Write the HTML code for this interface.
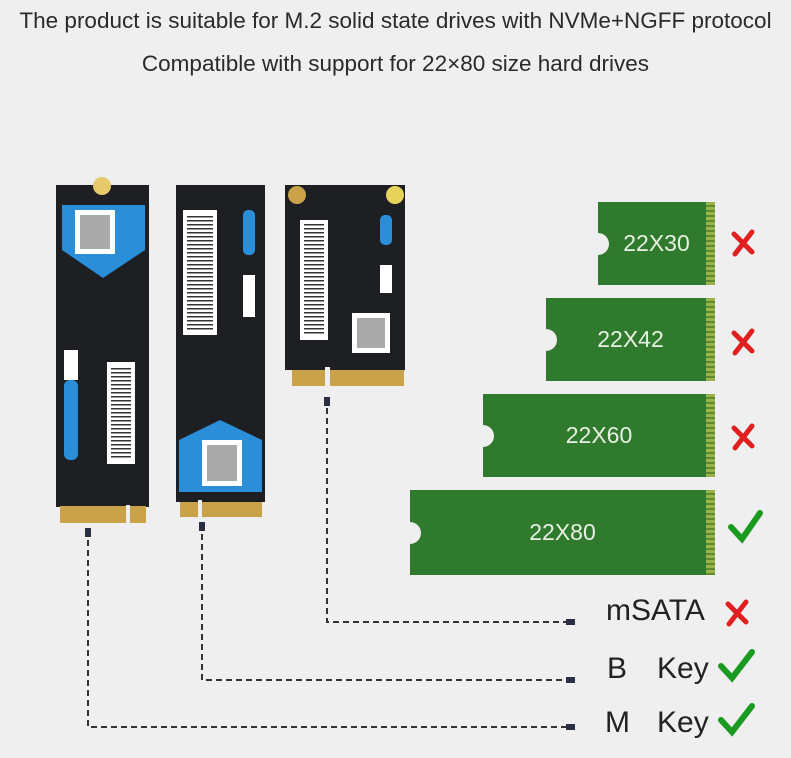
<!DOCTYPE html>
<html><head><style>
body{margin:0;width:791px;height:758px;background:#efefef;position:relative;overflow:hidden;font-family:"Liberation Sans",sans-serif;}
.t{position:absolute;left:0;width:791px;text-align:center;color:#2a2a2a;font-size:22.5px;}
.a{position:absolute;}
.g{position:absolute;background:#2f7a2c;color:#e8f0e4;font-size:23px;text-align:center;}
.g::after{content:"";position:absolute;right:0;top:0;width:9px;height:100%;background:repeating-linear-gradient(#9ab24a 0 3px,#5f8a30 3px 5px);}
.g .n{position:absolute;left:-11px;top:50%;margin-top:-11px;width:22px;height:22px;border-radius:50%;background:#efefef;}
.lbl{position:absolute;font-size:30px;color:#222;}
</style></head><body>
<div class="t" style="top:8px">The product is suitable for M.2 solid state drives with NVMe+NGFF protocol</div>
<div class="t" style="top:51px">Compatible with support for 22×80 size hard drives</div>

<svg class="a" style="left:0;top:0" width="791" height="758">
<defs><pattern id="bc" width="4" height="4" patternUnits="userSpaceOnUse"><rect width="4" height="4" fill="#fff"/><rect width="1.5" height="4" fill="#333"/></pattern>
<pattern id="bh" width="4" height="4" patternUnits="userSpaceOnUse"><rect width="4" height="4" fill="#fff"/><rect width="4" height="1.5" fill="#333"/></pattern></defs>
<!-- SSD1 -->
<rect x="56" y="185" width="93" height="322" fill="#1d1f23"/>
<circle cx="102" cy="186" r="9" fill="#e6c96a"/>
<polygon points="62,205 145,205 145,250 103,278 62,250" fill="#2a8fd8"/>
<rect x="75" y="210" width="40" height="44" fill="#fff"/>
<rect x="80" y="215" width="30" height="34" fill="#555" opacity=".5"/>
<rect x="107" y="362" width="28" height="102" fill="#fff"/>
<rect x="111" y="366" width="20" height="94" fill="url(#bh)"/>
<rect x="64" y="380" width="14" height="80" rx="6" fill="#2a8fd8"/>
<rect x="64" y="350" width="14" height="30" fill="#fff"/>
<rect x="60" y="506" width="86" height="17" fill="#c9a24a"/>
<rect x="126" y="505" width="4" height="18" fill="#efefef"/>
<!-- SSD2 -->
<rect x="176" y="185" width="89" height="317" fill="#1d1f23"/>
<rect x="183" y="210" width="34" height="125" fill="#fff"/>
<rect x="187" y="214" width="26" height="117" fill="url(#bh)"/>
<rect x="243" y="210" width="12" height="45" rx="5" fill="#2a8fd8"/>
<rect x="243" y="275" width="12" height="42" fill="#fff"/>
<polygon points="179,440 220,420 262,440 262,492 179,492" fill="#2a8fd8"/>
<rect x="202" y="440" width="40" height="46" fill="#fff"/>
<rect x="207" y="445" width="30" height="36" fill="#555" opacity=".5"/>
<rect x="180" y="502" width="82" height="15" fill="#c9a24a"/>
<rect x="198" y="500" width="4" height="18" fill="#efefef"/>
<!-- SSD3 -->
<rect x="285" y="185" width="120" height="185" fill="#1d1f23"/>
<circle cx="297" cy="195" r="9" fill="#c9a24a"/><circle cx="395" cy="195" r="9" fill="#e6d35a"/>
<rect x="300" y="220" width="28" height="120" fill="#fff"/>
<rect x="304" y="224" width="20" height="112" fill="url(#bh)"/>
<rect x="380" y="215" width="12" height="30" rx="5" fill="#2a8fd8"/>
<rect x="380" y="265" width="12" height="28" fill="#fff"/>
<rect x="352" y="313" width="38" height="40" fill="#fff"/>
<rect x="357" y="318" width="28" height="30" fill="#555" opacity=".5"/>
<rect x="292" y="370" width="112" height="16" fill="#c9a24a"/>
<rect x="325" y="367" width="5" height="20" fill="#efefef"/>
<!-- dashed lines -->
<g stroke="#333" stroke-width="2" stroke-dasharray="6,4" fill="none">
<path d="M88 530 V727 H570"/>
<path d="M202 524 V680 H570"/>
<path d="M327 398 V622 H570"/>
</g>
<g fill="#2a2f45">
<rect x="85" y="528" width="6" height="9"/><rect x="199" y="522" width="6" height="9"/><rect x="324" y="397" width="6" height="9"/>
<rect x="566" y="619" width="9" height="6"/><rect x="566" y="677" width="9" height="6"/><rect x="566" y="724" width="9" height="6"/>
</g>
<!-- marks -->
<g stroke="#e02020" stroke-width="5" stroke-linecap="round">
<path d="M734 234 L752 252 M752 232 L735 254"/>
<path d="M734 333 L752 351 M752 331 L735 353"/>
<path d="M734 428 L752 446 M752 426 L735 448"/>
<path d="M728 604 L746 622 M746 602 L729 624"/>
</g>
<g stroke="#1b9a22" stroke-width="6" fill="none" stroke-linecap="round">
<path d="M731 527 L742 539 L760 513"/>
<path d="M721 666 L732 678 L752 652"/>
<path d="M721 720 L732 732 L752 706"/>
</g>
</svg>

<div class="g" style="left:598px;top:202px;width:117px;height:83px;line-height:83px"><div class="n"></div>22X30</div>
<div class="g" style="left:546px;top:298px;width:169px;height:83px;line-height:83px"><div class="n"></div>22X42</div>
<div class="g" style="left:483px;top:394px;width:232px;height:83px;line-height:83px"><div class="n"></div>22X60</div>
<div class="g" style="left:410px;top:490px;width:305px;height:85px;line-height:85px"><div class="n"></div>22X80</div>

<div class="lbl" style="left:606px;top:594px">mSATA</div>
<div class="lbl" style="left:607px;top:652px">B</div>
<div class="lbl" style="left:657px;top:652px">Key</div>
<div class="lbl" style="left:605px;top:706px">M</div>
<div class="lbl" style="left:657px;top:706px">Key</div>
</body></html>
